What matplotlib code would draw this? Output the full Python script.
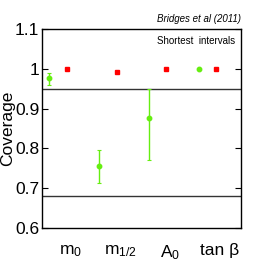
import matplotlib
matplotlib.use("Agg")
import matplotlib.pyplot as plt
import numpy as np

plt.rcParams['font.family'] = ['Liberation Sans', 'DejaVu Sans']
plt.rcParams['mathtext.fontset'] = 'custom'
plt.rcParams['mathtext.rm'] = 'Liberation Sans'
plt.rcParams['mathtext.it'] = 'Liberation Sans:italic'
plt.rcParams['mathtext.default'] = 'regular'

categories = [r'm$_0$', r'm$_{1/2}$', r'A$_0$', 'tan β']
green_vals = [0.978, 0.756, 0.876, 0.999]
green_lo = [0.959, 0.714, 0.772, 0.999]
green_hi = [0.989, 0.796, 0.948, 0.999]
red_vals = [1.0, 0.992, 1.0, 1.0]
ref_lines = [0.95, 0.68]

fig = plt.figure(figsize=(2.66, 2.66), dpi=100)
ax = fig.add_axes([0.158, 0.143, 0.748, 0.748])

x = np.arange(1, len(categories) + 1)
gx = x - 0.35
gv = np.array(green_vals)
yerr = np.array([gv - np.array(green_lo), np.array(green_hi) - gv])
ax.errorbar(gx, gv, yerr=yerr, fmt='o', color='#66ee11', ms=3.2,
            elinewidth=1.0, capsize=1.5, capthick=0.8, zorder=3)
ax.plot(x, red_vals, 's', color='#ff0000', ms=2.6, zorder=3)

for v in ref_lines:
    ax.axhline(v, color='#333333', lw=1.0, zorder=2)

ax.set_xlim(0.5, 4.5)
ax.set_ylim(0.6, 1.1)
ax.set_yticks([0.6, 0.7, 0.8, 0.9, 1.0, 1.1])
ax.set_yticklabels(['0.6', '0.7', '0.8', '0.9', '1', '1.1'])
ax.set_xticks(x + 0.08)
ax.set_xticklabels(categories)
ax.tick_params(axis='y', direction='in', length=4, width=0.8, right=True,
               labelsize=12.5, pad=2)
ax.tick_params(axis='x', length=0, labelsize=12.5, pad=11)
for s in ax.spines.values():
    s.set_linewidth(1.0)
ax.set_ylabel('Coverage', fontsize=12.5, labelpad=0)

ax.text(0.97, 0.94, 'Shortest  intervals', transform=ax.transAxes,
        ha='right', va='center', fontsize=7)
fig.text(0.906, 0.93, 'Bridges et al (2011)', ha='right', va='center',
         fontsize=7, style='italic')

fig.savefig('out.png', dpi=100)
